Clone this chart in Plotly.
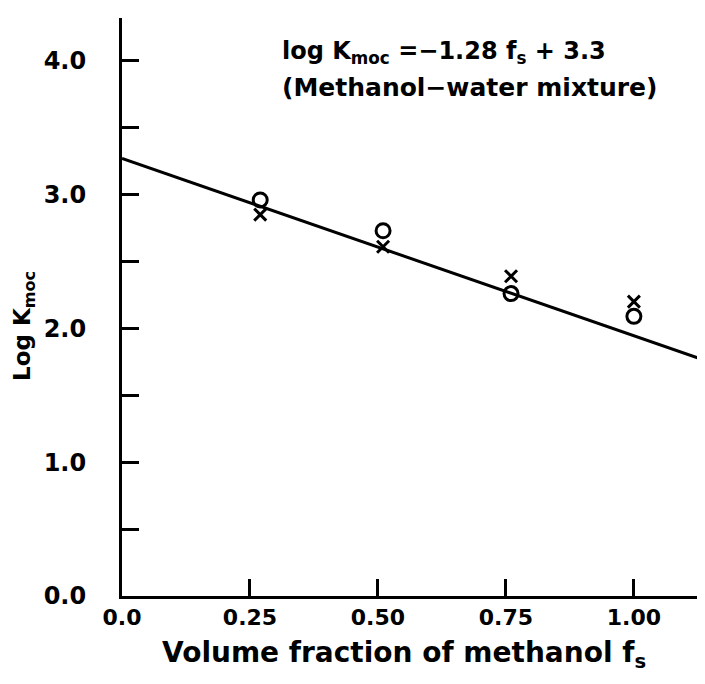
import plotly.graph_objects as go

# Data
fs = [0.27, 0.51, 0.76, 1.00]
log_k_circle = [2.96, 2.73, 2.26, 2.09]
log_k_cross = [2.85, 2.61, 2.39, 2.20]

fit_x = [0.0, 1.155]
fit_y = [3.27, 1.74]

x_tickvals = [0.0, 0.25, 0.50, 0.75, 1.00]
x_ticktext = ["0.0", "0.25", "0.50", "0.75", "1.00"]
y_tickvals = [0.0, 1.0, 2.0, 3.0, 4.0]
y_ticktext = ["0.0", "1.0", "2.0", "3.0", "4.0"]

FONT = "DejaVu Sans"

fig = go.Figure()
fig.add_trace(go.Scatter(x=fit_x, y=fit_y, mode="lines",
                         line=dict(color="black", width=3), showlegend=False))
fig.add_trace(go.Scatter(x=fs, y=log_k_cross, mode="markers",
                         marker=dict(symbol="x-thin-open", size=12, color="black",
                                     line=dict(color="black", width=3)),
                         showlegend=False))
fig.add_trace(go.Scatter(x=fs, y=log_k_circle, mode="markers",
                         marker=dict(symbol="circle-open", size=14, color="black",
                                     line=dict(color="black", width=3)),
                         showlegend=False))

fig.update_layout(
    width=705, height=684,
    margin=dict(l=114, r=10, t=10, b=96),
    paper_bgcolor="white", plot_bgcolor="white",
    font=dict(family=FONT, color="black", size=20),
    xaxis=dict(range=[0, 1.135], showgrid=False, zeroline=False,
               showline=True, linecolor="black", linewidth=3,
               ticks="inside", ticklen=17, tickwidth=2.5, tickcolor="black",
               tickvals=x_tickvals, ticktext=x_ticktext,
               tickfont=dict(family=FONT, size=22, weight="bold"),
               ticklabelstandoff=0),
    yaxis=dict(range=[0, 4.32], showgrid=False, zeroline=False,
               showline=True, linecolor="black", linewidth=3,
               ticks="inside", ticklen=17, tickwidth=2.5, tickcolor="black",
               tickvals=y_tickvals, ticktext=y_ticktext,
               minor=dict(tick0=0, dtick=0.5, ticks="inside", ticklen=17,
                          tickwidth=2.5, tickcolor="black", showgrid=False),
               tickfont=dict(family=FONT, size=24, weight="bold"),
               ticklabelstandoff=28),
)

fig.add_annotation(xref="paper", yref="paper", x=(396 - 114) / 581, y=-(646 - 588) / 578,
                   text="Volume fraction of methanol f<sub>s</sub>", showarrow=False,
                   xanchor="center", yanchor="middle",
                   font=dict(family=FONT, size=28, weight="bold"))
fig.add_annotation(xref="paper", yref="paper", x=-(114 - 16) / 581, y=(588 - 318) / 578,
                   text="Log K<sub>moc</sub>", showarrow=False, textangle=-90,
                   xanchor="center", yanchor="middle",
                   font=dict(family=FONT, size=23, weight="bold"))
fig.add_annotation(xref="paper", yref="paper", x=(272 - 114) / 581, y=(588 - 44) / 578,
                   text="log K<sub>moc</sub> =−1.28 f<sub>s</sub> + 3.3", showarrow=False,
                   xanchor="left", yanchor="middle",
                   font=dict(family=FONT, size=24, weight="bold"))
fig.add_annotation(xref="paper", yref="paper", x=(272 - 114) / 581, y=(588 - 80) / 578,
                   text="(Methanol−water mixture)", showarrow=False,
                   xanchor="left", yanchor="middle",
                   font=dict(family=FONT, size=25, weight="bold"))

fig.write_html("out.html")
